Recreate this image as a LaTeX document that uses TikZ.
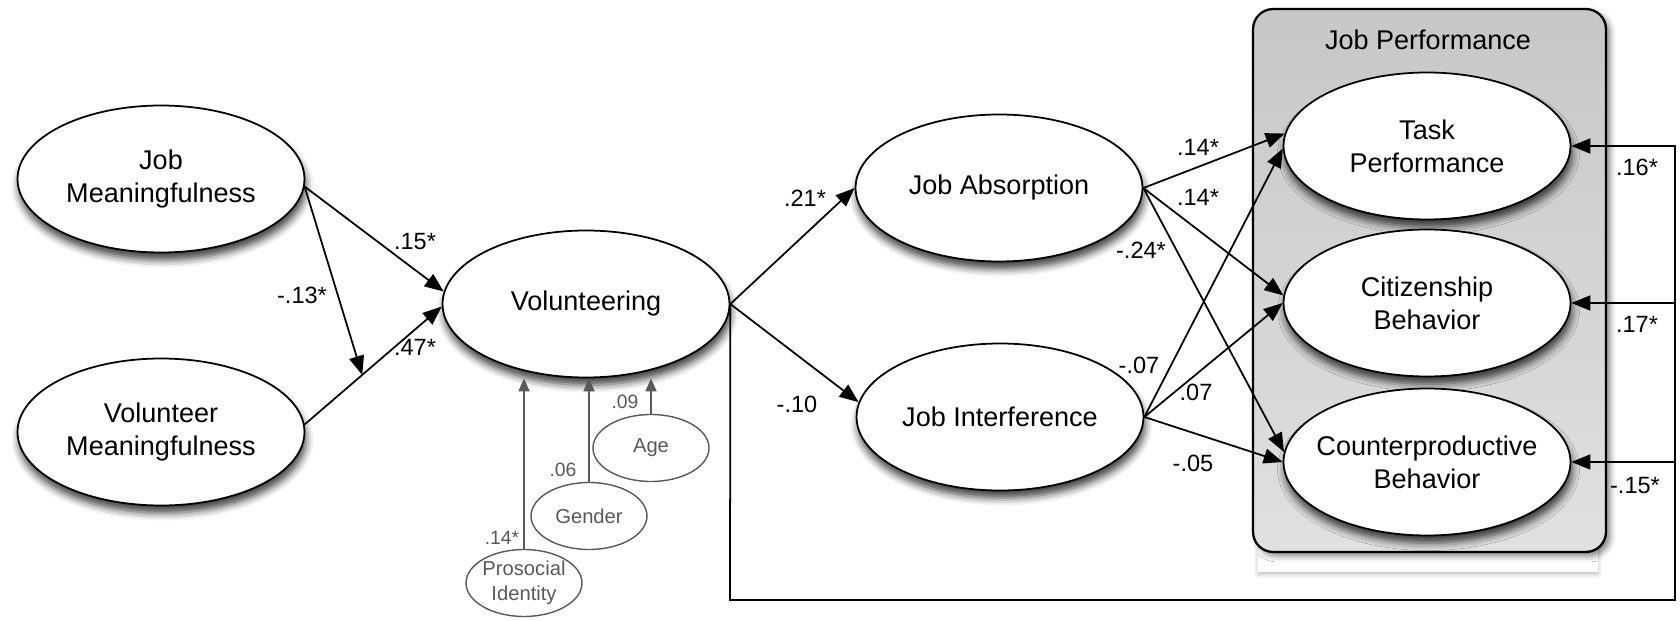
\documentclass[tikz,border=0pt]{standalone}
\usepackage{fontspec}
\setmainfont{Liberation Sans}
\usetikzlibrary{shapes.geometric,arrows.meta,shadows.blur,calc}
\definecolor{gr}{HTML}{595959}
\begin{document}
\begin{tikzpicture}[x=0.02cm,y=-0.02cm,
  el/.style={ellipse, draw, line width=1pt, fill=white, minimum width=5.74cm, minimum height=2.94cm, inner sep=0pt,
    blur shadow={shadow xshift=0.03cm, shadow yshift=-0.15cm, shadow blur radius=0.15cm, shadow opacity=75}},
  ctl/.style={ellipse, draw=gr, line width=0.8pt, fill=white, minimum width=2.32cm, minimum height=1.34cm, inner sep=0pt},
  mtext/.style={align=center, font=\fontsize{15.4}{18.8}\selectfont, inner sep=0pt},
  ctext/.style={align=center, font=\fontsize{11.5}{14}\selectfont, text=gr, inner sep=0pt},
  lab/.style={font=\fontsize{13.4}{16}\selectfont, inner sep=0pt},
  clab/.style={font=\fontsize{11}{13}\selectfont, text=gr, inner sep=0pt},
  arr/.style={-{Triangle[length=0.38cm,width=0.3cm]}, line width=1pt},
  garr/.style={-{Triangle[length=0.26cm,width=0.22cm]}, line width=1pt, draw=gr},
]
\useasboundingbox (0,0) rectangle (1680,621);

% job performance box
\node[fill=white, minimum width=6.8cm, minimum height=0.5cm, inner sep=0pt,
  blur shadow={shadow xshift=0cm, shadow yshift=-0.04cm, shadow blur radius=0.08cm, shadow opacity=25}] (wr) at (1428,560) {};
\node[draw, line width=1.3pt, rounded corners=0.4cm, top color=black!22, bottom color=black!12,
  minimum width=7.06cm, minimum height=10.86cm, inner sep=0pt,
  blur shadow={shadow xshift=0.08cm, shadow yshift=-0.08cm, shadow blur radius=0.12cm, shadow opacity=50}] (jp) at (1429.5,280.5) {};
\node[mtext] (jpt) at (1428,40) {Job Performance};

% main ellipses
\node[el] (jm) at (161,179) {};
\node[el] (vm) at (161,432) {};
\node[el] (vol) at (586,304) {};
\node[el] (ja) at (999,188) {};
\node[el] (ji) at (1000,417) {};
\node[el] (tp) at (1427,146) {};
\node[el] (cb) at (1427,303) {};
\node[el] (cpb) at (1427,462) {};

\node[mtext] (jmt) at (jm) {Job\\Meaningfulness};
\node[mtext] (vmt) at (vm) {Volunteer\\Meaningfulness};
\node[mtext] (volt) at (vol) {Volunteering};
\node[mtext] (jat) at (ja) {Job Absorption};
\node[mtext] (jit) at (ji) {Job Interference};
\node[mtext] (tpt) at (tp) {Task\\Performance};
\node[mtext] (cbt) at (cb) {Citizenship\\Behavior};
\node[mtext] (cpbt) at (cpb) {Counterproductive\\Behavior};

% controls
\node[ctl] (age) at (651,448) {};
\node[ctl] (gen) at (589,516) {};
\node[ctl] (pro) at (524,583) {};
\node[ctext] (aget) at (age) {Age};
\node[ctext] (gent) at (gen) {Gender};
\node[ctext] (prot) at (pro) {Prosocial\\Identity};

\draw[garr] (age.north) -- (age.north |- vol.south);
\draw[garr] (gen.north) -- (gen.north |- vol.south);
\draw[garr] (pro.north) -- (pro.north |- vol.south);

% connectors
\draw[arr] (jm.-3) -- (vol.175);
\draw[arr] (vm.3) -- (vol.181);
\coordinate (mid) at ($(vm.3)!0.42!(vol.181)$);
\draw[arr] (jm.-3) -- (mid);

\draw[arr] (vol.east) -- (ja.west);
\draw[arr] (vol.east) -- (ji.174);

\draw[arr] (ja.east) -- (tp.175);
\draw[arr] (ja.east) -- (cb.177);
\draw[arr] (ja.east) -- (cpb.176);
\draw[arr] (ji.east) -- (tp.181);
\draw[arr] (ji.east) -- (cb.180);
\draw[arr] (ji.east) -- (cpb.180);

\coordinate (c1) at (730,600);
\coordinate (c2) at (1675,600);
\draw[arr] (vol.east) -- (c1) -- (c2) |- (tp.east);
\draw[arr] (cb.east -| c2) -- (cb.east);
\draw[arr] (cpb.east -| c2) -- (cpb.east);

% labels
\node[lab] (l1) at (415,242) {.15*};
\node[lab] (l2) at (302,295) {-.13*};
\node[lab] (l3) at (415,347) {.47*};
\node[lab] (l4) at (805,198) {.21*};
\node[lab] (l5) at (797,404) {-.10};
\node[lab] (l6) at (1198,147) {.14*};
\node[lab] (l7) at (1198,197) {.14*};
\node[lab] (l8) at (1141,250) {-.24*};
\node[lab] (l9) at (1139,365) {-.07};
\node[lab] (l10) at (1196,392) {.07};
\node[lab] (l11) at (1193,463) {-.05};
\node[lab] (l12) at (1637,167) {.16*};
\node[lab] (l13) at (1637,324) {.17*};
\node[lab] (l14) at (1635,486) {-.15*};
\node[clab] (l15) at (625,402) {.09};
\node[clab] (l16) at (563,470) {.06};
\node[clab] (l17) at (502,538) {.14*};
\end{tikzpicture}
\end{document}
